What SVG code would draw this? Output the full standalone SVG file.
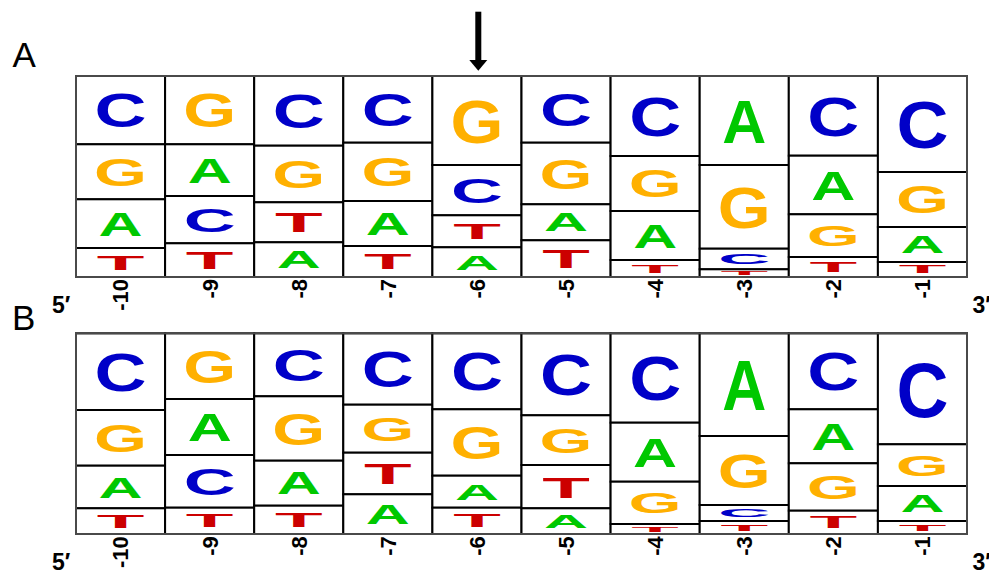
<svg xmlns="http://www.w3.org/2000/svg" width="989" height="571" viewBox="0 0 989 571">
<style>
.cell{fill:#fff;stroke:#000;stroke-width:2}
.frame{fill:none;stroke:#4a4a4a;stroke-width:2}
.L{font-family:"Liberation Sans",Arial,sans-serif;font-weight:bold;font-size:100px;text-anchor:middle}
.C{fill:#0000c8}.G{fill:#ffb000}.A{fill:#00c800}.T{fill:#cc0000}
.tick{font-family:"Liberation Sans",Arial,sans-serif;font-weight:bold;font-size:22px;text-anchor:end;fill:#000}
.end{font-family:"Liberation Sans","DejaVu Sans",sans-serif;font-weight:bold;font-size:23px;fill:#000}
.panel{font-family:"Liberation Sans",Arial,sans-serif;font-size:35px;fill:#000}
</style>
<rect width="989" height="571" fill="#fff"/>
<text class="panel" x="12.5" y="66.7">A</text>
<text class="panel" x="12" y="330">B</text>
<g id="arrow"><rect x="475.3" y="11.7" width="6" height="49" fill="#000"/><polygon points="469.3,60 487.3,60 478.3,70.7" fill="#000"/></g>

<g id="panelA">
<g id="A_m10">
<rect class="cell" x="76" y="76" width="89.1" height="68.3"/><rect class="cell" x="76" y="144.3" width="89.1" height="55"/><rect class="cell" x="76" y="199.3" width="89.1" height="48.7"/><rect class="cell" x="76" y="248" width="89.1" height="29"/>
<text class="L C" transform="translate(120.55,127.2) scale(0.72,0.474)">C</text>
<text class="L G" transform="translate(120.55,185.55) scale(0.68,0.382)">G</text>
<text class="L A" transform="translate(120.55,235.8) scale(0.61,0.338)">A</text>
<text class="L T" transform="translate(120.55,269.75) scale(0.78,0.201)">T</text>
</g>
<g id="A_m9">
<rect class="cell" x="165.1" y="76" width="89.1" height="68.3"/><rect class="cell" x="165.1" y="144.3" width="89.1" height="51.7"/><rect class="cell" x="165.1" y="196" width="89.1" height="47.3"/><rect class="cell" x="165.1" y="243.3" width="89.1" height="33.7"/>
<text class="L G" transform="translate(209.65,127.2) scale(0.68,0.474)">G</text>
<text class="L A" transform="translate(209.65,183.1) scale(0.61,0.359)">A</text>
<text class="L C" transform="translate(209.65,231.5) scale(0.72,0.328)">C</text>
<text class="L T" transform="translate(209.65,268.6) scale(0.78,0.234)">T</text>
</g>
<g id="A_m8">
<rect class="cell" x="254.2" y="76" width="89.1" height="69.7"/><rect class="cell" x="254.2" y="145.7" width="89.1" height="56.6"/><rect class="cell" x="254.2" y="202.3" width="89.1" height="40"/><rect class="cell" x="254.2" y="242.3" width="89.1" height="34.7"/>
<text class="L C" transform="translate(298.75,128.3) scale(0.72,0.484)">C</text>
<text class="L G" transform="translate(298.75,188.15) scale(0.68,0.393)">G</text>
<text class="L T" transform="translate(298.75,232.3) scale(0.78,0.278)">T</text>
<text class="L A" transform="translate(298.75,268.3) scale(0.61,0.241)">A</text>
</g>
<g id="A_m7">
<rect class="cell" x="343.3" y="76" width="89.1" height="66.7"/><rect class="cell" x="343.3" y="142.7" width="89.1" height="58.3"/><rect class="cell" x="343.3" y="201" width="89.1" height="45"/><rect class="cell" x="343.3" y="246" width="89.1" height="31"/>
<text class="L C" transform="translate(387.85,126) scale(0.72,0.463)">C</text>
<text class="L G" transform="translate(387.85,186.4) scale(0.68,0.405)">G</text>
<text class="L A" transform="translate(387.85,234.75) scale(0.61,0.3125)">A</text>
<text class="L T" transform="translate(387.85,269.25) scale(0.78,0.215)">T</text>
</g>
<g id="A_m6">
<rect class="cell" x="432.4" y="76" width="89.1" height="89"/><rect class="cell" x="432.4" y="165" width="89.1" height="50.3"/><rect class="cell" x="432.4" y="215.3" width="89.1" height="32"/><rect class="cell" x="432.4" y="247.3" width="89.1" height="29.7"/>
<text class="L G" transform="translate(476.95,142.75) scale(0.68,0.618)">G</text>
<text class="L C" transform="translate(476.95,202.7) scale(0.72,0.349)">C</text>
<text class="L T" transform="translate(476.95,239.3) scale(0.78,0.222)">T</text>
<text class="L A" transform="translate(476.95,269.6) scale(0.61,0.206)">A</text>
</g>
<g id="A_m5">
<rect class="cell" x="521.5" y="76" width="89.1" height="66.7"/><rect class="cell" x="521.5" y="142.7" width="89.1" height="61.6"/><rect class="cell" x="521.5" y="204.3" width="89.1" height="36"/><rect class="cell" x="521.5" y="240.3" width="89.1" height="36.7"/>
<text class="L C" transform="translate(566.05,126) scale(0.72,0.463)">C</text>
<text class="L G" transform="translate(566.05,188.9) scale(0.68,0.428)">G</text>
<text class="L A" transform="translate(566.05,231.3) scale(0.61,0.25)">A</text>
<text class="L T" transform="translate(566.05,267.8) scale(0.78,0.255)">T</text>
</g>
<g id="A_m4">
<rect class="cell" x="610.6" y="76" width="89.1" height="80"/><rect class="cell" x="610.6" y="156" width="89.1" height="55"/><rect class="cell" x="610.6" y="211" width="89.1" height="49"/><rect class="cell" x="610.6" y="260" width="89.1" height="17"/>
<text class="L C" transform="translate(655.15,136) scale(0.72,0.556)">C</text>
<text class="L G" transform="translate(655.15,197.25) scale(0.68,0.382)">G</text>
<text class="L A" transform="translate(655.15,247.75) scale(0.61,0.34)">A</text>
<text class="L T" transform="translate(655.15,272.75) scale(0.78,0.118)">T</text>
</g>
<g id="A_m3">
<rect class="cell" x="699.7" y="76" width="89.1" height="89"/><rect class="cell" x="699.7" y="165" width="89.1" height="83.7"/><rect class="cell" x="699.7" y="248.7" width="89.1" height="20.6"/><rect class="cell" x="699.7" y="269.3" width="89.1" height="7.7"/>
<text class="L A" transform="translate(744.25,142.75) scale(0.61,0.618)">A</text>
<text class="L G" transform="translate(744.25,227.8) scale(0.68,0.581)">G</text>
<text class="L C" transform="translate(744.25,264.15) scale(0.72,0.143)">C</text>
<text class="L T" transform="translate(744.25,275.1) scale(0.78,0.0535)">T</text>
</g>
<g id="A_m2">
<rect class="cell" x="788.8" y="76" width="89.1" height="79.7"/><rect class="cell" x="788.8" y="155.7" width="89.1" height="58.6"/><rect class="cell" x="788.8" y="214.3" width="89.1" height="42.7"/><rect class="cell" x="788.8" y="257" width="89.1" height="20"/>
<text class="L C" transform="translate(833.35,135.8) scale(0.72,0.553)">C</text>
<text class="L A" transform="translate(833.35,199.65) scale(0.61,0.407)">A</text>
<text class="L G" transform="translate(833.35,246.3) scale(0.68,0.297)">G</text>
<text class="L T" transform="translate(833.35,272) scale(0.78,0.139)">T</text>
</g>
<g id="A_m1">
<rect class="cell" x="877.9" y="76" width="89.1" height="96"/><rect class="cell" x="877.9" y="172" width="89.1" height="55"/><rect class="cell" x="877.9" y="227" width="89.1" height="35"/><rect class="cell" x="877.9" y="262" width="89.1" height="15"/>
<text class="L C" transform="translate(922.45,148) scale(0.72,0.667)">C</text>
<text class="L G" transform="translate(922.45,213.25) scale(0.68,0.382)">G</text>
<text class="L A" transform="translate(922.45,253.25) scale(0.61,0.243)">A</text>
<text class="L T" transform="translate(922.45,273.25) scale(0.78,0.104)">T</text>
</g>
<rect class="frame" x="76" y="76" width="891" height="201"/>
<g id="A_ticks">
<text class="tick" transform="translate(128.4,279) rotate(-90)">-10</text>
<text class="tick" transform="translate(217.5,279) rotate(-90)">-9</text>
<text class="tick" transform="translate(306.6,279) rotate(-90)">-8</text>
<text class="tick" transform="translate(395.7,279) rotate(-90)">-7</text>
<text class="tick" transform="translate(484.8,279) rotate(-90)">-6</text>
<text class="tick" transform="translate(573.9,279) rotate(-90)">-5</text>
<text class="tick" transform="translate(663,279) rotate(-90)">-4</text>
<text class="tick" transform="translate(752.1,279) rotate(-90)">-3</text>
<text class="tick" transform="translate(841.2,279) rotate(-90)">-2</text>
<text class="tick" transform="translate(930.3,279) rotate(-90)">-1</text>
</g>
<text class="end" x="52" y="312.5">5′</text>
<text class="end" x="972.5" y="313">3′</text>
</g>

<g id="panelB">
<g id="B_m10">
<rect class="cell" x="76" y="333.3" width="89.1" height="76.7"/><rect class="cell" x="76" y="410" width="89.1" height="55.7"/><rect class="cell" x="76" y="465.7" width="89.1" height="42.6"/><rect class="cell" x="76" y="508.3" width="89.1" height="25.7"/>
<text class="L C" transform="translate(120.55,390.8) scale(0.72,0.533)">C</text>
<text class="L G" transform="translate(120.55,451.8) scale(0.68,0.387)">G</text>
<text class="L A" transform="translate(120.55,497.65) scale(0.61,0.296)">A</text>
<text class="L T" transform="translate(120.55,527.6) scale(0.78,0.178)">T</text>
</g>
<g id="B_m9">
<rect class="cell" x="165.1" y="333.3" width="89.1" height="65.7"/><rect class="cell" x="165.1" y="399" width="89.1" height="56"/><rect class="cell" x="165.1" y="455" width="89.1" height="52.7"/><rect class="cell" x="165.1" y="507.7" width="89.1" height="26.3"/>
<text class="L G" transform="translate(209.65,382.6) scale(0.68,0.456)">G</text>
<text class="L A" transform="translate(209.65,441) scale(0.61,0.389)">A</text>
<text class="L C" transform="translate(209.65,494.5) scale(0.72,0.366)">C</text>
<text class="L T" transform="translate(209.65,527.4) scale(0.78,0.183)">T</text>
</g>
<g id="B_m8">
<rect class="cell" x="254.2" y="333.3" width="89.1" height="63"/><rect class="cell" x="254.2" y="396.3" width="89.1" height="64.4"/><rect class="cell" x="254.2" y="460.7" width="89.1" height="45"/><rect class="cell" x="254.2" y="505.7" width="89.1" height="28.3"/>
<text class="L C" transform="translate(298.75,380.55) scale(0.72,0.4375)">C</text>
<text class="L G" transform="translate(298.75,444.6) scale(0.68,0.447)">G</text>
<text class="L A" transform="translate(298.75,494.45) scale(0.61,0.3125)">A</text>
<text class="L T" transform="translate(298.75,526.9) scale(0.78,0.197)">T</text>
</g>
<g id="B_m7">
<rect class="cell" x="343.3" y="333.3" width="89.1" height="71.4"/><rect class="cell" x="343.3" y="404.7" width="89.1" height="48"/><rect class="cell" x="343.3" y="452.7" width="89.1" height="41.6"/><rect class="cell" x="343.3" y="494.3" width="89.1" height="39.7"/>
<text class="L C" transform="translate(387.85,386.85) scale(0.72,0.496)">C</text>
<text class="L G" transform="translate(387.85,440.7) scale(0.68,0.333)">G</text>
<text class="L T" transform="translate(387.85,483.9) scale(0.78,0.289)">T</text>
<text class="L A" transform="translate(387.85,524.1) scale(0.61,0.276)">A</text>
</g>
<g id="B_m6">
<rect class="cell" x="432.4" y="333.3" width="89.1" height="76"/><rect class="cell" x="432.4" y="409.3" width="89.1" height="66.4"/><rect class="cell" x="432.4" y="475.7" width="89.1" height="32"/><rect class="cell" x="432.4" y="507.7" width="89.1" height="26.3"/>
<text class="L C" transform="translate(476.95,390.3) scale(0.72,0.528)">C</text>
<text class="L G" transform="translate(476.95,459.1) scale(0.68,0.461)">G</text>
<text class="L A" transform="translate(476.95,499.7) scale(0.61,0.222)">A</text>
<text class="L T" transform="translate(476.95,527.4) scale(0.78,0.183)">T</text>
</g>
<g id="B_m5">
<rect class="cell" x="521.5" y="333.3" width="89.1" height="82"/><rect class="cell" x="521.5" y="415.3" width="89.1" height="49.7"/><rect class="cell" x="521.5" y="465" width="89.1" height="43.3"/><rect class="cell" x="521.5" y="508.3" width="89.1" height="25.7"/>
<text class="L C" transform="translate(566.05,394.8) scale(0.72,0.569)">C</text>
<text class="L G" transform="translate(566.05,452.6) scale(0.68,0.345)">G</text>
<text class="L T" transform="translate(566.05,497.5) scale(0.78,0.301)">T</text>
<text class="L A" transform="translate(566.05,527.6) scale(0.61,0.178)">A</text>
</g>
<g id="B_m4">
<rect class="cell" x="610.6" y="333.3" width="89.1" height="89.4"/><rect class="cell" x="610.6" y="422.7" width="89.1" height="59"/><rect class="cell" x="610.6" y="481.7" width="89.1" height="42.3"/><rect class="cell" x="610.6" y="524" width="89.1" height="10"/>
<text class="L C" transform="translate(655.15,400.35) scale(0.72,0.621)">C</text>
<text class="L A" transform="translate(655.15,466.95) scale(0.61,0.41)">A</text>
<text class="L G" transform="translate(655.15,513.4) scale(0.68,0.294)">G</text>
<text class="L T" transform="translate(655.15,531.5) scale(0.78,0.069)">T</text>
</g>
<g id="B_m3">
<rect class="cell" x="699.7" y="333.3" width="89.1" height="102.7"/><rect class="cell" x="699.7" y="436" width="89.1" height="69"/><rect class="cell" x="699.7" y="505" width="89.1" height="16"/><rect class="cell" x="699.7" y="521" width="89.1" height="13"/>
<text class="L A" transform="translate(744.25,410.3) scale(0.61,0.713)">A</text>
<text class="L G" transform="translate(744.25,487.75) scale(0.68,0.479)">G</text>
<text class="L C" transform="translate(744.25,517) scale(0.72,0.111)">C</text>
<text class="L T" transform="translate(744.25,530.75) scale(0.78,0.09)">T</text>
</g>
<g id="B_m2">
<rect class="cell" x="788.8" y="333.3" width="89.1" height="76"/><rect class="cell" x="788.8" y="409.3" width="89.1" height="54"/><rect class="cell" x="788.8" y="463.3" width="89.1" height="47.4"/><rect class="cell" x="788.8" y="510.7" width="89.1" height="23.3"/>
<text class="L C" transform="translate(833.35,390.3) scale(0.72,0.528)">C</text>
<text class="L A" transform="translate(833.35,449.8) scale(0.61,0.375)">A</text>
<text class="L G" transform="translate(833.35,498.85) scale(0.68,0.329)">G</text>
<text class="L T" transform="translate(833.35,528.2) scale(0.78,0.162)">T</text>
</g>
<g id="B_m1">
<rect class="cell" x="877.9" y="333.3" width="89.1" height="111"/><rect class="cell" x="877.9" y="444.3" width="89.1" height="41.7"/><rect class="cell" x="877.9" y="486" width="89.1" height="35"/><rect class="cell" x="877.9" y="521" width="89.1" height="13"/>
<text class="L C" transform="translate(922.45,416.55) scale(0.72,0.771)">C</text>
<text class="L G" transform="translate(922.45,475.6) scale(0.68,0.29)">G</text>
<text class="L A" transform="translate(922.45,512.25) scale(0.61,0.243)">A</text>
<text class="L T" transform="translate(922.45,530.75) scale(0.78,0.09)">T</text>
</g>
<rect class="frame" x="76" y="333.3" width="891" height="200.7"/>
<g id="B_ticks">
<text class="tick" transform="translate(128.4,536.3) rotate(-90)">-10</text>
<text class="tick" transform="translate(217.5,536.3) rotate(-90)">-9</text>
<text class="tick" transform="translate(306.6,536.3) rotate(-90)">-8</text>
<text class="tick" transform="translate(395.7,536.3) rotate(-90)">-7</text>
<text class="tick" transform="translate(484.8,536.3) rotate(-90)">-6</text>
<text class="tick" transform="translate(573.9,536.3) rotate(-90)">-5</text>
<text class="tick" transform="translate(663,536.3) rotate(-90)">-4</text>
<text class="tick" transform="translate(752.1,536.3) rotate(-90)">-3</text>
<text class="tick" transform="translate(841.2,536.3) rotate(-90)">-2</text>
<text class="tick" transform="translate(930.3,536.3) rotate(-90)">-1</text>
</g>
<text class="end" x="52" y="569.8">5′</text>
<text class="end" x="972.5" y="570">3′</text>
</g>
<g id="connectors"/>
</svg>
